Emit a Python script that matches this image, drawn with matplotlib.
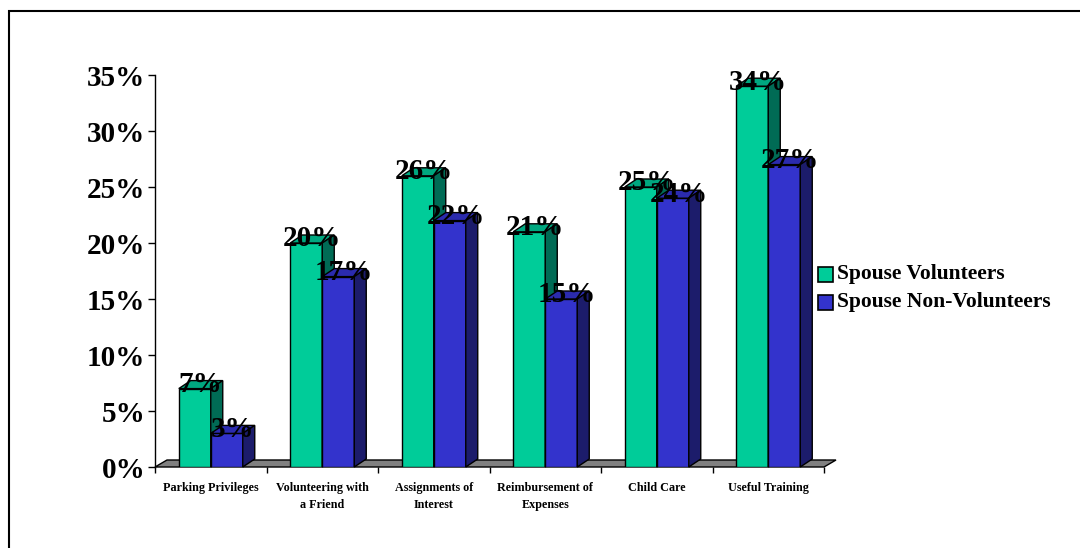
import matplotlib.pyplot as plt
from matplotlib.patches import Polygon, Rectangle
from matplotlib.ticker import FuncFormatter
import numpy as np

categories = ["Parking Privileges", "Volunteering with\na Friend", "Assignments of\nInterest",
              "Reimbursement of\nExpenses", "Child Care", "Useful Training"]
volunteers = [7, 20, 26, 21, 25, 34]
non_volunteers = [3, 17, 22, 15, 24, 27]
series_names = ["Spouse Volunteers", "Spouse Non-Volunteers"]
y_ticks = [0, 5, 10, 15, 20, 25, 30, 35]

# face colours: front, top, side
green = ("#00CC99", "#00A880", "#006B55")
blue = ("#3333CC", "#2B2BAE", "#1C1C6B")
FONT = "Liberation Serif"

W, H = 1080, 548
fig = plt.figure(figsize=(W / 100, H / 100), dpi=100)
ax = fig.add_axes([155 / W, 81 / H, 669 / W, 392 / H])
ax.set_xlim(0, len(categories))
ax.set_ylim(0, 35)

# pixel -> data units for the fake 3D depth
px_x = 669 / len(categories)
px_y = 392 / 35
ddx, ddy = 12 / px_x, 8 / px_y
bar_w = 0.287

# floor
fdx, fdy = 12 / px_x, 7 / px_y
n = len(categories)
ax.add_patch(Polygon([(0, 0), (n, 0), (n + fdx, fdy), (fdx, fdy)], closed=True,
                     fc="#808080", ec="black", lw=1, zorder=2, clip_on=False))


def bar3d(x0, h, cols):
    front, top, side = cols
    ax.add_patch(Rectangle((x0, 0), bar_w, h, fc=front, ec="black", lw=1, zorder=3))
    ax.add_patch(Polygon([(x0, h), (x0 + bar_w, h), (x0 + bar_w + ddx, h + ddy), (x0 + ddx, h + ddy)],
                         closed=True, fc=top, ec="black", lw=1, zorder=3, clip_on=False))
    ax.add_patch(Polygon([(x0 + bar_w, 0), (x0 + bar_w + ddx, ddy), (x0 + bar_w + ddx, h + ddy), (x0 + bar_w, h)],
                         closed=True, fc=side, ec="black", lw=1, zorder=3, clip_on=False))


for i in range(n):
    xc = i + 0.5
    bar3d(xc - bar_w, volunteers[i], green)
    bar3d(xc, non_volunteers[i], blue)

for i in range(n):
    xc = i + 0.5
    for x0, v in [(xc - bar_w, volunteers[i]), (xc, non_volunteers[i])]:
        ax.text(x0 + bar_w / 2 + ddx / 2, v + ddy / 2, f"{v}%", ha="center", va="center",
                fontsize=21, fontweight="bold", family=FONT, zorder=6, clip_on=False)

# axes styling
for s in ["top", "right", "bottom"]:
    ax.spines[s].set_visible(False)
ax.spines["left"].set_linewidth(1)
ax.set_yticks(y_ticks)
ax.yaxis.set_major_formatter(FuncFormatter(lambda v, p: f"{int(v)}%"))
ax.tick_params(axis="y", direction="out", length=5, width=1, pad=2, labelsize=21)
for lab in ax.get_yticklabels():
    lab.set_family(FONT)
    lab.set_fontweight("bold")

ax.set_xticks(np.arange(n + 1))
ax.set_xticklabels([])
ax.tick_params(axis="x", which="major", direction="out", length=4, width=1)
ax.set_xticks(np.arange(n) + 0.5, minor=True)
ax.set_xticklabels(categories, minor=True, fontsize=8.7, fontweight="bold", family=FONT,
                   linespacing=1.5)
ax.tick_params(axis="x", which="minor", length=0, pad=11)

# legend
for j, (name, cols) in enumerate(zip(series_names, [green, blue])):
    yc = 274.5 + 28 * j
    fig.patches.append(Rectangle((818 / W, 1 - (yc + 7.5) / H), 15 / W, 15 / H, fc=cols[0], ec="black",
                                 lw=1.2, transform=fig.transFigure, figure=fig))
    fig.text(837 / W, 1 - yc / H, name, ha="left", va="center", fontsize=15.5, fontweight="bold",
             family=FONT)

# outer frame (runs off the image on the right and bottom)
fig.patches.append(Rectangle((9 / W, -0.2), 1.2, 1.2 - 11 / H, fill=False, ec="black", lw=1.5,
                             transform=fig.transFigure, figure=fig))

fig.savefig("out.png", dpi=100)
